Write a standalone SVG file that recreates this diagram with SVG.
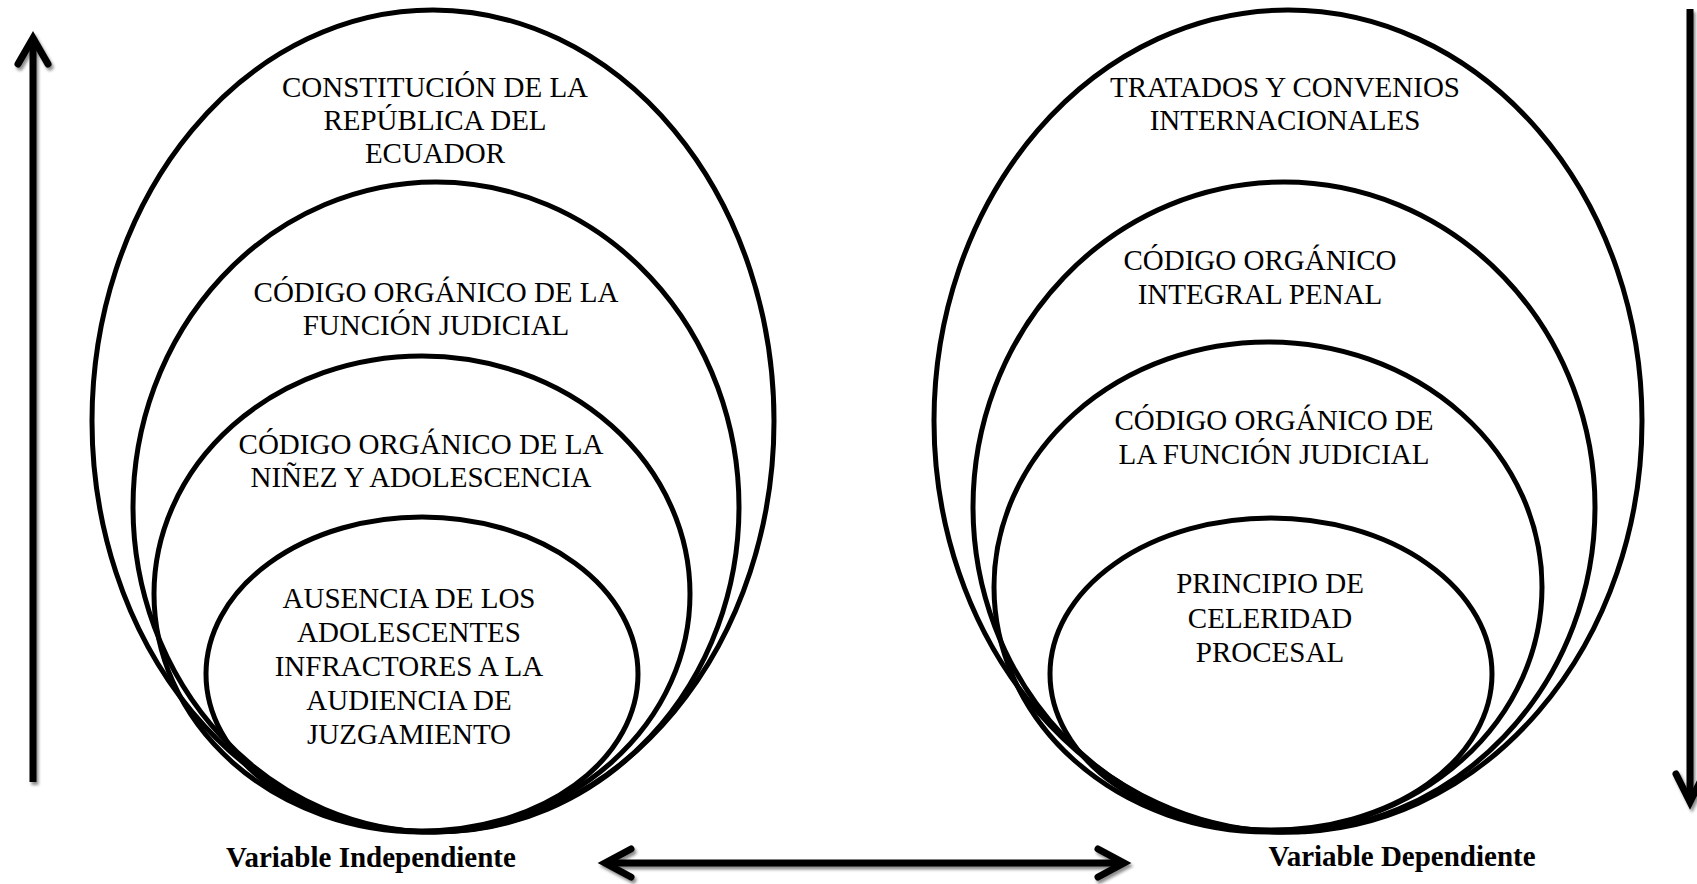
<svg xmlns="http://www.w3.org/2000/svg" width="1697" height="884" viewBox="0 0 1697 884">
<defs>
<style>
.e{fill:none;stroke:#000;stroke-width:5}
.t{font-family:"Liberation Serif","Times New Roman",serif;font-size:29px;fill:#000;text-anchor:middle}
.lb{font-family:"Liberation Serif","Times New Roman",serif;font-size:29px;font-weight:bold;fill:#000;text-anchor:middle}
.a{fill:none;stroke:#000;stroke-width:7;stroke-linecap:round;stroke-linejoin:miter}
.s{fill:none;stroke:#000;stroke-width:7;stroke-linecap:butt}
</style>
<filter id="sh" x="-20%" y="-20%" width="140%" height="140%">
<feDropShadow dx="2" dy="3" stdDeviation="1.5" flood-color="#000" flood-opacity="0.45"/>
</filter>
</defs>
<rect width="1697" height="884" fill="#fff"/>
<g id="left-group">
<g id="l1"><ellipse class="e" cx="433" cy="421" rx="341" ry="411"/>
<text class="t" x="435" y="97">CONSTITUCIÓN DE LA</text>
<text class="t" x="435" y="130">REPÚBLICA DEL</text>
<text class="t" x="435" y="163">ECUADOR</text></g>
<g id="l2"><ellipse class="e" cx="436" cy="507" rx="303" ry="325"/>
<text class="t" x="436" y="302">CÓDIGO ORGÁNICO DE LA</text>
<text class="t" x="436" y="335">FUNCIÓN JUDICIAL</text></g>
<g id="l3"><ellipse class="e" cx="422" cy="594" rx="268" ry="238"/>
<text class="t" x="421" y="454">CÓDIGO ORGÁNICO DE LA</text>
<text class="t" x="421" y="487">NIÑEZ Y ADOLESCENCIA</text></g>
<g id="l4"><ellipse class="e" cx="422" cy="674" rx="216" ry="157"/>
<text class="t" x="409" y="608">AUSENCIA DE LOS</text>
<text class="t" x="409" y="642">ADOLESCENTES</text>
<text class="t" x="409" y="676">INFRACTORES A LA</text>
<text class="t" x="409" y="710">AUDIENCIA DE</text>
<text class="t" x="409" y="744">JUZGAMIENTO</text></g>
</g>
<g id="right-group">
<g id="r1"><ellipse class="e" cx="1288" cy="421" rx="354" ry="411"/>
<text class="t" x="1285" y="97">TRATADOS Y CONVENIOS</text>
<text class="t" x="1285" y="130">INTERNACIONALES</text></g>
<g id="r2"><ellipse class="e" cx="1284" cy="507" rx="311" ry="325"/>
<text class="t" x="1260" y="270">CÓDIGO ORGÁNICO</text>
<text class="t" x="1260" y="304">INTEGRAL PENAL</text></g>
<g id="r3"><ellipse class="e" cx="1268" cy="587" rx="274" ry="245"/>
<text class="t" x="1274" y="430">CÓDIGO ORGÁNICO DE</text>
<text class="t" x="1274" y="464">LA FUNCIÓN JUDICIAL</text></g>
<g id="r4"><ellipse class="e" cx="1271" cy="674" rx="221" ry="156"/>
<text class="t" x="1270" y="593">PRINCIPIO DE</text>
<text class="t" x="1270" y="628">CELERIDAD</text>
<text class="t" x="1270" y="662">PROCESAL</text></g>
</g>
<g id="labels">
<text class="lb" x="371" y="867">Variable Independiente</text>
<text class="lb" x="1402" y="866">Variable Dependiente</text>
</g>
<g id="connectors" filter="url(#sh)">
<line class="s" x1="33" y1="42" x2="33" y2="782"/>
<path class="a" d="M18,64 L33,38 L48,64"/>
<line class="s" x1="1690" y1="9" x2="1690" y2="798"/>
<path class="a" d="M1676,774 L1690,802 L1704,774"/>
<line class="s" x1="610" y1="863" x2="1120" y2="863"/>
<path class="a" d="M631,849 L605,863 L631,877"/>
<path class="a" d="M1098,849 L1124,863 L1098,877"/>
</g>
</svg>
